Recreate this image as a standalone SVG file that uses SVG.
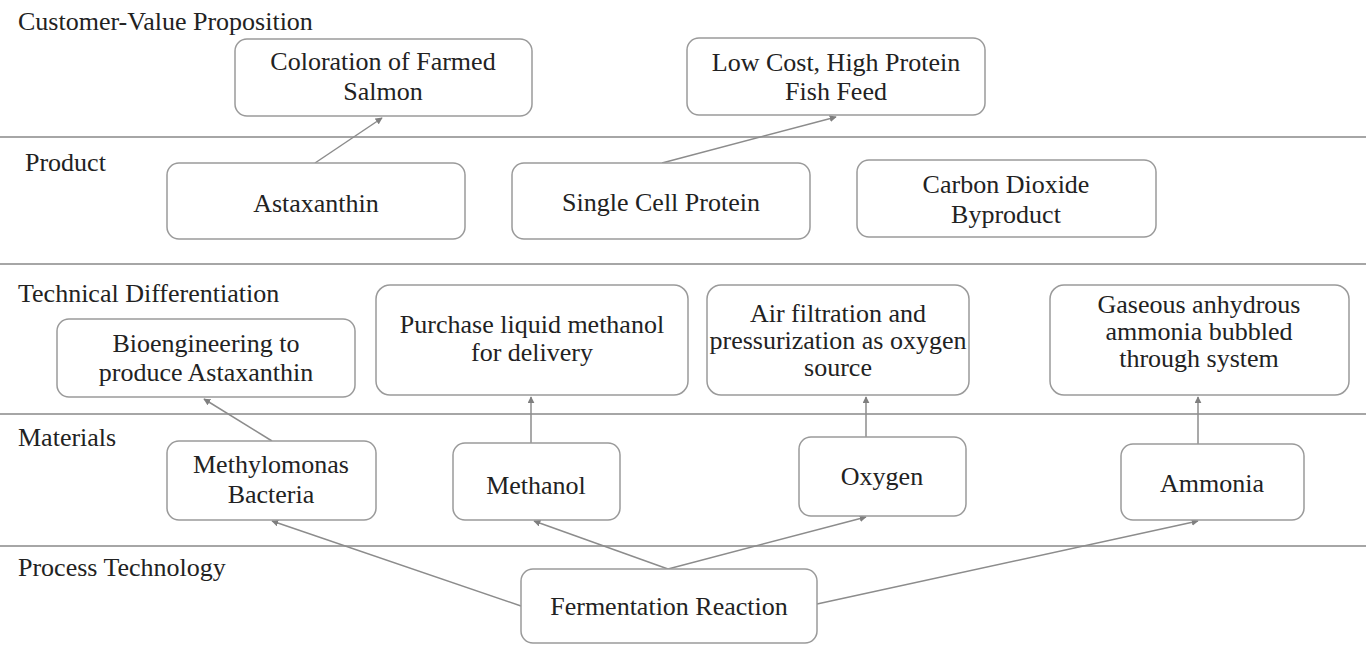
<svg xmlns="http://www.w3.org/2000/svg" width="1366" height="645" viewBox="0 0 1366 645">
<style>
.bg{fill:#ffffff}
.sep{stroke:#a6a6a6;stroke-width:2;fill:none}
.lbl{font-family:'Liberation Serif','DejaVu Serif',serif;font-size:26px;fill:#222}
.box{fill:#ffffff;stroke:#9a9a9a;stroke-width:1.5}
.t{font-family:'Liberation Serif','DejaVu Serif',serif;font-size:26px;fill:#222;text-anchor:middle}
.c{stroke:#8c8c8c;stroke-width:1.5;fill:none;marker-end:url(#ah)}
</style>
<defs>
<marker id="ah" viewBox="0 0 10 10" refX="9" refY="5" markerWidth="7" markerHeight="7" markerUnits="userSpaceOnUse" orient="auto">
<path d="M0,0 L10,5 L0,10 z" fill="#7f7f7f"/>
</marker>
</defs>
<rect class="bg" x="0" y="0" width="1366" height="645"/>
<g id="lanes">
<line class="sep" x1="0" y1="137" x2="1366" y2="137"/>
<line class="sep" x1="0" y1="264" x2="1366" y2="264"/>
<line class="sep" x1="0" y1="414" x2="1366" y2="414"/>
<line class="sep" x1="0" y1="546" x2="1366" y2="546"/>
<text class="lbl" x="18" y="30">Customer-Value Proposition</text>
<text class="lbl" x="25" y="171">Product</text>
<text class="lbl" x="18" y="302">Technical Differentiation</text>
<text class="lbl" x="18" y="446">Materials</text>
<text class="lbl" x="18" y="576">Process Technology</text>
</g>
<g id="connectors">
<line class="c" x1="315" y1="163" x2="382" y2="118"/>
<line class="c" x1="662" y1="163" x2="836" y2="117"/>
<line class="c" x1="272" y1="441" x2="204" y2="399"/>
<line class="c" x1="531" y1="443" x2="531" y2="397"/>
<line class="c" x1="866" y1="437" x2="866" y2="397"/>
<line class="c" x1="1198" y1="444" x2="1198" y2="397"/>
<line class="c" x1="521" y1="606" x2="272" y2="521"/>
<line class="c" x1="668" y1="569" x2="534" y2="521"/>
<line class="c" x1="668" y1="569" x2="866" y2="517"/>
<line class="c" x1="817" y1="604" x2="1198" y2="521"/>
</g>
<g id="n-coloration">
<rect class="box" x="235" y="39" width="297" height="77" rx="12"/>
<text class="t" x="383" y="70">Coloration of Farmed</text>
<text class="t" x="383" y="100">Salmon</text>
</g>
<g id="n-lowcost">
<rect class="box" x="687" y="38" width="298" height="77" rx="12"/>
<text class="t" x="836" y="71">Low Cost, High Protein</text>
<text class="t" x="836" y="100">Fish Feed</text>
</g>
<g id="n-astaxanthin">
<rect class="box" x="167" y="163" width="298" height="76" rx="12"/>
<text class="t" x="316" y="212">Astaxanthin</text>
</g>
<g id="n-scp">
<rect class="box" x="512" y="163" width="298" height="76" rx="12"/>
<text class="t" x="661" y="211">Single Cell Protein</text>
</g>
<g id="n-co2">
<rect class="box" x="857" y="160" width="299" height="77" rx="12"/>
<text class="t" x="1006" y="193">Carbon Dioxide</text>
<text class="t" x="1006" y="223">Byproduct</text>
</g>
<g id="n-bioeng">
<rect class="box" x="57" y="319" width="298" height="78" rx="12"/>
<text class="t" x="206" y="352">Bioengineering to</text>
<text class="t" x="206" y="381">produce Astaxanthin</text>
</g>
<g id="n-purchase">
<rect class="box" x="376" y="285" width="312" height="110" rx="14"/>
<text class="t" x="532" y="333">Purchase liquid methanol</text>
<text class="t" x="532" y="361">for delivery</text>
</g>
<g id="n-air">
<rect class="box" x="707" y="285" width="262" height="110" rx="14"/>
<text class="t" x="838" y="322">Air filtration and</text>
<text class="t" x="838" y="349">pressurization as oxygen</text>
<text class="t" x="838" y="376">source</text>
</g>
<g id="n-gaseous">
<rect class="box" x="1050" y="285" width="299" height="110" rx="14"/>
<text class="t" x="1199" y="313">Gaseous anhydrous</text>
<text class="t" x="1199" y="340">ammonia bubbled</text>
<text class="t" x="1199" y="367">through system</text>
</g>
<g id="n-methylomonas">
<rect class="box" x="167" y="441" width="209" height="79" rx="12"/>
<text class="t" x="271" y="473">Methylomonas</text>
<text class="t" x="271" y="503">Bacteria</text>
</g>
<g id="n-methanol">
<rect class="box" x="453" y="443" width="167" height="77" rx="12"/>
<text class="t" x="536" y="494">Methanol</text>
</g>
<g id="n-oxygen">
<rect class="box" x="799" y="437" width="167" height="79" rx="12"/>
<text class="t" x="882" y="485">Oxygen</text>
</g>
<g id="n-ammonia">
<rect class="box" x="1121" y="444" width="183" height="76" rx="12"/>
<text class="t" x="1212" y="492">Ammonia</text>
</g>
<g id="n-fermentation">
<rect class="box" x="521" y="569" width="296" height="74" rx="12"/>
<text class="t" x="669" y="615">Fermentation Reaction</text>
</g>
</svg>
